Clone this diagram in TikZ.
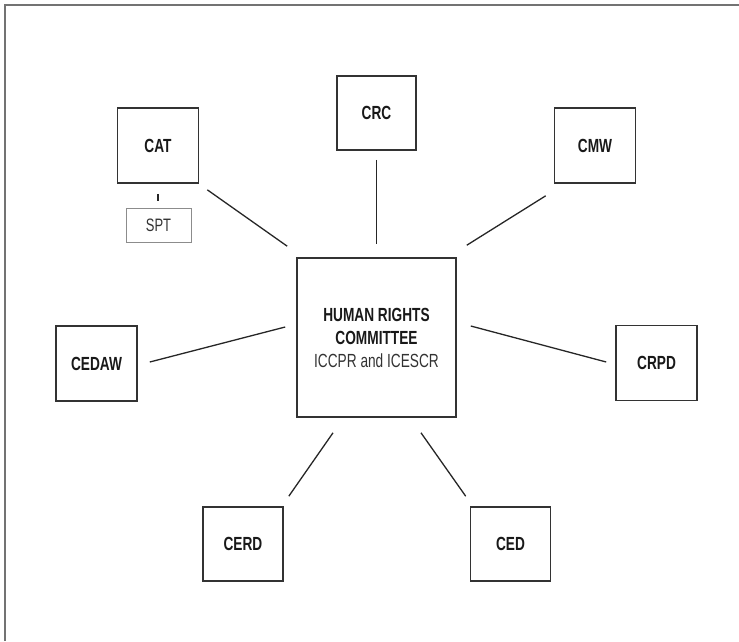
\documentclass[tikz,border=0pt]{standalone}
\usepackage{fontspec}
\setmainfont[FakeStretch=0.72]{Liberation Sans}
\begin{document}
\begin{tikzpicture}[x=1pt,y=-1pt,
  box/.style={draw=black!80,line width=1.6pt,rectangle,inner sep=0pt,minimum width=81pt,minimum height=75pt,font=\fontsize{19}{23}\selectfont\bfseries,text=black!90},
  subbox/.style={draw=black!45,line width=0.9pt,rectangle,inner sep=0pt,minimum width=65pt,minimum height=34pt,font=\fontsize{18}{22}\selectfont,text=black!80},
  link/.style={draw=black!85,line width=1.3pt},
  frame/.style={draw=black!55,line width=2pt}]
\useasboundingbox (0,0) rectangle (739,641);
\draw[frame] (5,641) -- (5,5) -- (739,5);
\node[box,minimum width=159pt,minimum height=159pt,align=center] (hrc) at (376.5,337.5)
  {HUMAN RIGHTS\\COMMITTEE\\{\mdseries\color{black!80}ICCPR and ICESCR}};
\node[box] (cat) at (158,145.5) {CAT};
\node[subbox] (spt) at (158.5,225) {SPT};
\node[box,minimum width=79pt,minimum height=74pt] (crc) at (376.5,113) {CRC};
\node[box] (cmw) at (595,145.5) {CMW};
\node[box] (cedaw) at (96.5,363.5) {CEDAW};
\node[box] (crpd) at (656.5,363) {CRPD};
\node[box,minimum width=80pt,minimum height=74pt] (cerd) at (243,544) {CERD};
\node[box,minimum width=80pt,minimum height=74pt] (ced) at (510.5,544) {CED};
\draw[link] ([shift={(0,10)}]cat.south) -- ([shift={(-0.5,-7)}]spt.north);
\draw[link] ([shift={(8,6)}]cat.south east) -- ([shift={(-9,-11)}]hrc.north west);
\draw[link] ([shift={(0,9)}]crc.south) -- ([shift={(0,-13)}]hrc.north);
\draw[link] ([shift={(-8,12)}]cmw.south west) -- ([shift={(10,-12)}]hrc.north east);
\draw[link] ([shift={(12,-1.5)}]cedaw.east) -- ([shift={(-11,-10.5)}]hrc.west);
\draw[link] ([shift={(14,-11.5)}]hrc.east) -- ([shift={(-9,-1)}]crpd.west);
\draw[link] ([shift={(-43.5,15)}]hrc.south) -- ([shift={(5,-10)}]cerd.north east);
\draw[link] ([shift={(44.5,15)}]hrc.south) -- ([shift={(-4,-10)}]ced.north west);
\end{tikzpicture}
\end{document}
